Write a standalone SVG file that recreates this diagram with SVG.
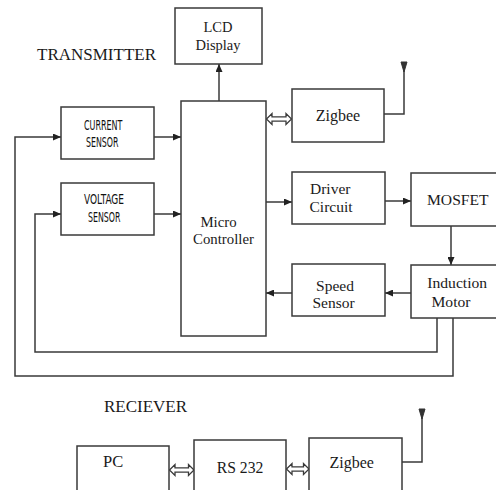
<svg xmlns="http://www.w3.org/2000/svg" width="496" height="490" viewBox="0 0 496 490">
<defs>
<style>
.box{fill:#fff;stroke:#3a3a3a;stroke-width:1.5}
.ln{fill:none;stroke:#3a3a3a;stroke-width:1.5}
.arr{fill:none;stroke:#3a3a3a;stroke-width:1.5;marker-end:url(#ah)}
.dbl{fill:#fff;stroke:#3a3a3a;stroke-width:1.3;stroke-linejoin:miter}
.t{font-family:"Liberation Serif","Times New Roman",serif;fill:#1a1a1a}
.c{font-family:"DejaVu Sans Condensed","Liberation Sans Narrow","Liberation Sans",sans-serif;font-size:13.5px;fill:#111}
.ant{fill:#333;stroke:#333;stroke-width:1}
</style>
<marker id="ah" viewBox="0 0 8 7" refX="8" refY="3.5" markerWidth="8" markerHeight="7" markerUnits="userSpaceOnUse" orient="auto">
<path d="M0,0 L8,3.5 L0,7 z" fill="#222"/>
</marker>
</defs>
<rect width="496" height="490" fill="#fff"/>

<text class="t" x="37" y="60" font-size="16" textLength="119" lengthAdjust="spacingAndGlyphs">TRANSMITTER</text>
<text class="t" x="104" y="412" font-size="16" textLength="83" lengthAdjust="spacingAndGlyphs">RECIEVER</text>

<g id="connectors">
<path class="arr" d="M219,101 V64"/>
<path class="arr" d="M154,137 H181"/>
<path class="arr" d="M154,214 H181"/>
<path class="arr" d="M266,202 H292"/>
<path class="arr" d="M385,201 H411"/>
<path class="arr" d="M451,226 V265"/>
<path class="arr" d="M411,293 H385"/>
<path class="arr" d="M292,293 H266"/>
<path class="arr" d="M453,318 V376 H15 V137 H61"/>
<path class="arr" d="M437,318 V352 H35 V214 H61"/>
<path class="ln" d="M384,114 H404 V64"/>
<path class="ant" d="M401,62 L404,72 L407,62 z"/>
<path class="ln" d="M402,462 H422 V411"/>
<path class="ant" d="M419,409 L422,419 L425,409 z"/>
<path class="dbl" d="M266.5,119 L272,113.5 V116.8 H286 V113.5 L291.5,119 L286,124.5 V121.2 H272 V124.5 z"/>
<path class="dbl" d="M169.5,470 L175,464.5 V467.8 H188.5 V464.5 L194,470 L188.5,475.5 V472.2 H175 V475.5 z"/>
<path class="dbl" d="M286.5,469 L292,463.5 V466.8 H303.5 V463.5 L309,469 L303.5,474.5 V471.2 H292 V474.5 z"/>
</g>

<g id="lcd">
<rect class="box" x="175" y="8" width="87" height="56"/>
<text class="t" x="218" y="31.5" font-size="14.5" text-anchor="middle">LCD</text>
<text class="t" x="218" y="50" font-size="14.5" text-anchor="middle">Display</text>
</g>

<g id="micro">
<rect class="box" x="181" y="101" width="85" height="235"/>
<text class="t" x="218.5" y="226.5" font-size="14.8" text-anchor="middle">Micro</text>
<text class="t" x="223.5" y="243.5" font-size="14.8" text-anchor="middle">Controller</text>
</g>

<g id="current">
<rect class="box" x="61" y="107" width="93" height="52"/>
<text class="c" x="84" y="129.5" textLength="38.5" lengthAdjust="spacingAndGlyphs">CURRENT</text>
<text class="c" x="86" y="146.5" textLength="32.5" lengthAdjust="spacingAndGlyphs">SENSOR</text>
</g>

<g id="voltage">
<rect class="box" x="61" y="183" width="93" height="52"/>
<text class="c" x="84" y="204" textLength="40" lengthAdjust="spacingAndGlyphs">VOLTAGE</text>
<text class="c" x="88" y="221.5" textLength="32.5" lengthAdjust="spacingAndGlyphs">SENSOR</text>
</g>

<g id="zigbee-tx">
<rect class="box" x="292" y="89" width="92" height="53"/>
<text class="t" x="338" y="120.5" font-size="16" text-anchor="middle">Zigbee</text>
</g>

<g id="driver">
<rect class="box" x="292" y="172" width="93" height="52"/>
<text class="t" x="310" y="193.5" font-size="15.5">Driver</text>
<text class="t" x="309.5" y="212" font-size="15.5">Circuit</text>
</g>

<g id="mosfet">
<rect class="box" x="411" y="173" width="95" height="53"/>
<text class="t" x="427" y="205" font-size="15.6">MOSFET</text>
</g>

<g id="speed">
<rect class="box" x="292" y="264" width="93" height="52"/>
<text class="t" x="335" y="290.5" font-size="15.5" text-anchor="middle">Speed</text>
<text class="t" x="333.5" y="308.3" font-size="15.5" text-anchor="middle">Sensor</text>
</g>

<g id="motor">
<rect class="box" x="411" y="265" width="95" height="53"/>
<text class="t" x="427.3" y="288.3" font-size="15.6">Induction</text>
<text class="t" x="431.5" y="306.7" font-size="15.6">Motor</text>
</g>

<g id="pc">
<rect class="box" x="77" y="446" width="92" height="60"/>
<text class="t" x="103" y="466.7" font-size="16.5">PC</text>
</g>

<g id="rs232">
<rect class="box" x="194" y="440" width="92" height="60"/>
<text class="t" x="240" y="472.7" font-size="15.7" text-anchor="middle">RS 232</text>
</g>

<g id="zigbee-rx">
<rect class="box" x="309" y="438" width="93" height="60"/>
<text class="t" x="351.7" y="468" font-size="16" text-anchor="middle">Zigbee</text>
</g>
</svg>
